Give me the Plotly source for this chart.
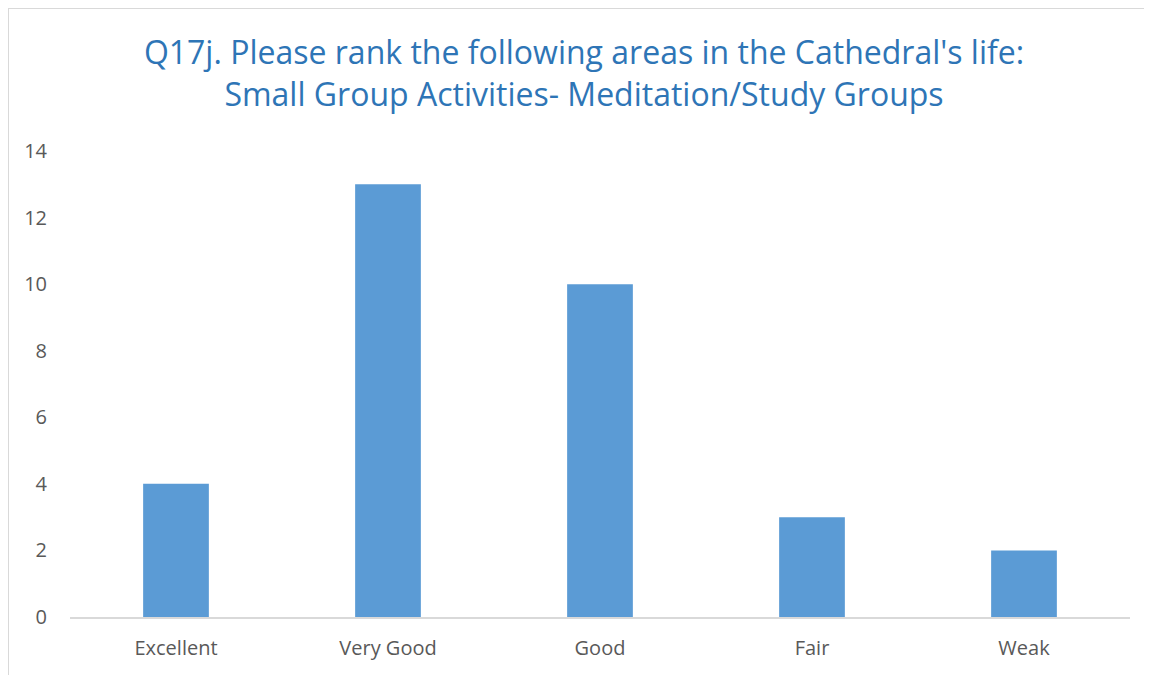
import plotly.graph_objects as go

categories = ["Excellent", "Very Good", "Good", "Fair", "Weak"]
counts = [4, 13, 10, 3, 2]
y_ticks = [0, 2, 4, 6, 8, 10, 12, 14]

fig = go.Figure(go.Bar(x=categories, y=counts, marker_color="#5B9BD5", marker_line_width=0))

fig.update_layout(
    width=1144, height=667,
    paper_bgcolor="white", plot_bgcolor="white",
    margin=dict(l=62, r=22, t=143, b=58),
    bargap=0.69,
    title=dict(
        text="Q17j. Please rank the following areas in the Cathedral's life:<br>Small Group Activities- Meditation/Study Groups",
        x=576/1144, xref="container", xanchor="center", y=0.916, yanchor="top",
        font=dict(family="Open Sans", size=32, color="#2E75B6"),
    ),
    font=dict(family="Open Sans", color="#595959", size=20),
    showlegend=False,
)
fig.update_xaxes(showline=True, linecolor="#D9D9D9", linewidth=2, ticks="", showgrid=False,
                 ticklabelstandoff=12, tickfont=dict(size=20, color="#595959"))
fig.update_yaxes(range=[0, 14], tickvals=y_ticks, showgrid=False, zeroline=False, showline=False,
                 ticks="", ticklabelstandoff=22, tickfont=dict(size=20, color="#595959"))

# outer chart border (top and left edges visible)
fig.add_shape(type="line", xref="paper", yref="paper", x0=-62/1060, x1=2, y0=1 + 143/466, y1=1 + 143/466,
              line=dict(color="#D9D9D9", width=2), layer="below")
fig.add_shape(type="line", xref="paper", yref="paper", x0=-62/1060, x1=-62/1060, y0=-1, y1=1 + 143/466,
              line=dict(color="#D9D9D9", width=2), layer="below")

fig.write_html("out.html")
